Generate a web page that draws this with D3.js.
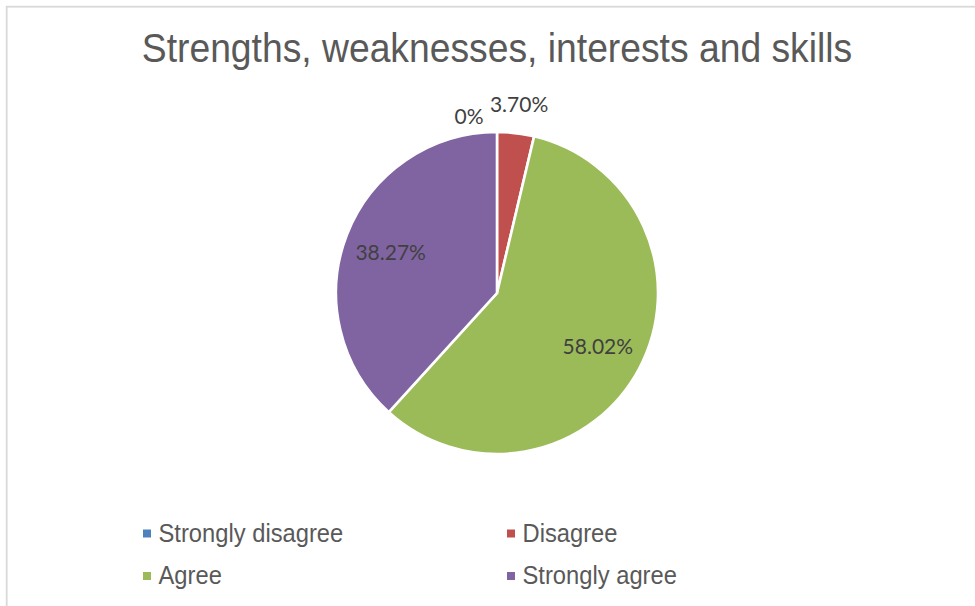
<!DOCTYPE html>
<html>
<head>
<meta charset="utf-8">
<script src="https://cdn.jsdelivr.net/npm/d3@7"></script>
<style>
  html, body { margin: 0; padding: 0; background: #fff; }
  svg { display: block; }
</style>
</head>
<body>
<svg id="chart" width="975" height="606"></svg>
<script>
// Survey responses (percent of respondents)
const categories = ["Strongly disagree", "Disagree", "Agree", "Strongly agree"];
const values = [0, 3.70, 58.02, 38.27];
const colors = ["#4f81bd", "#c0504d", "#9bbb59", "#8064a2"];
const title = "Strengths, weaknesses, interests and skills";

const data = categories.map((c, i) => ({ category: c, value: values[i], color: colors[i] }));

const W = 975, H = 606;
const svg = d3.select("#chart");

// chart-area frame (right and bottom edges fall outside the view)
svg.append("rect")
  .attr("x", 6.7).attr("y", 6.7)
  .attr("width", 1200).attr("height", 1200)
  .attr("fill", "none")
  .attr("stroke", "#d9d9d9")
  .attr("stroke-width", 1.8);

// title
svg.append("text")
  .attr("transform", "translate(497,62) scale(0.898,1)")
  .attr("text-anchor", "middle")
  .attr("font-family", "'Liberation Sans', Arial, sans-serif")
  .attr("font-size", 41.5)
  .attr("fill", "#595959")
  .text(title);

// pie
const cx = 497, cy = 293, r = 161;
const pie = d3.pie().value(d => d.value).sort(null);
const arcs = pie(data);
const arc = d3.arc().innerRadius(0).outerRadius(r);
const labelArc = d3.arc().innerRadius(114).outerRadius(114);
const outerArc = d3.arc().innerRadius(190).outerRadius(190);
const zeroArc = d3.arc().innerRadius(177).outerRadius(177);

const g = svg.append("g").attr("transform", `translate(${cx},${cy})`);

g.selectAll("path.slice")
  .data(arcs)
  .join("path")
  .attr("class", "slice")
  .attr("d", arc)
  .attr("fill", d => d.data.color)
  .attr("stroke", "#fff")
  .attr("stroke-width", 2.6)
  .attr("stroke-linejoin", "miter");

const fmt = v => (v === 0 ? "0%" : v.toFixed(2) + "%");

g.selectAll("text.lbl")
  .data(arcs)
  .join("text")
  .attr("class", "lbl")
  .attr("transform", d => {
    let p;
    if (d.data.value === 0) {
      p = zeroArc.centroid(d);
      p[0] -= 28;
    } else if (d.data.value < 5) {
      p = outerArc.centroid(d);
    } else {
      p = labelArc.centroid(d);
    }
    return `translate(${p[0]},${p[1]})`;
  })
  .attr("text-anchor", "middle")
  .attr("dy", "0.36em")
  .attr("font-family", "Lato, 'Open Sans', sans-serif")
  .attr("font-size", 21)
  .attr("fill", "#404040")
  .text(d => fmt(d.data.value));

// legend: two columns, two rows
const colX = d3.scaleOrdinal().domain([0, 1]).range([143, 507]);
const rowY = d3.scaleOrdinal().domain([0, 1]).range([541.5, 584]);

const leg = svg.append("g")
  .selectAll("g")
  .data(data)
  .join("g")
  .attr("transform", (d, i) => `translate(${colX(i % 2)},${rowY(Math.floor(i / 2))})`);

leg.append("rect")
  .attr("x", 0).attr("y", -12)
  .attr("width", 8).attr("height", 8)
  .attr("fill", d => d.color);

leg.append("text")
  .attr("transform", "translate(15.5,0) scale(0.95,1)")
  .attr("font-family", "'Liberation Sans', Arial, sans-serif")
  .attr("font-size", 25)
  .attr("fill", "#595959")
  .text(d => d.category);
</script>
</body>
</html>
